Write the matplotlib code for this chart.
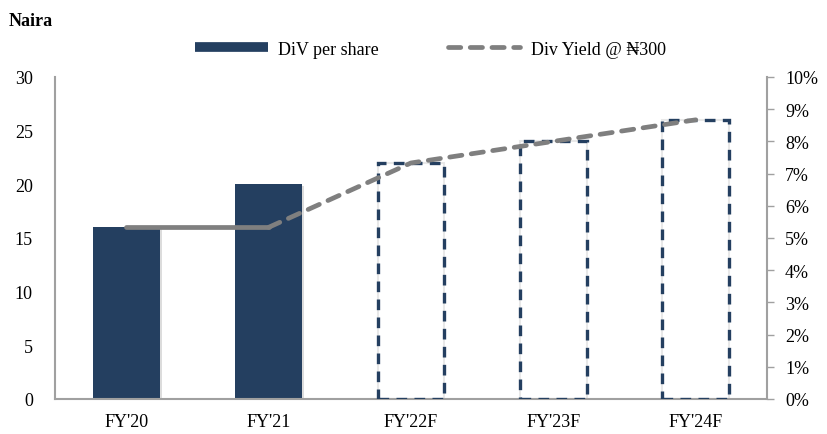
import matplotlib.pyplot as plt
import matplotlib.patheffects as pe
from matplotlib.lines import Line2D
from matplotlib.ticker import PercentFormatter
import numpy as np

plt.rcParams['font.family'] = ['Liberation Serif', 'DejaVu Serif']
plt.rcParams['font.size'] = 13

years = ["FY'20", "FY'21", "FY'22F", "FY'23F", "FY'24F"]
dps = [16, 20, 22, 24, 26]
div_yield = [5.33, 5.33, 7.33, 8.0, 8.67]   # % at N300 share price
n_actual = 2

navy = '#243f60'
grey = '#7f7f7f'
axis_grey = '#a0a0a0'

fig = plt.figure(figsize=(8.28, 4.35), dpi=100)
ax = fig.add_axes([0.0664, 0.0805, 0.8599, 0.7402])
ax2 = ax.twinx()
ax.set_zorder(1)
ax2.set_zorder(2)
ax.patch.set_visible(False)

x = np.arange(len(years))
w = 0.47
shadow = [pe.SimplePatchShadow(offset=(1.5, -1.5), shadow_rgbFace='#bbbbbb', alpha=0.5), pe.Normal()]

# actual years: solid bars
bars = ax.bar(x[:n_actual], dps[:n_actual], w, color=navy, zorder=2)
for b in bars:
    b.set_path_effects(shadow)

# forecast years: faint outline under a dashed navy outline
ax.bar(x[n_actual:], dps[n_actual:], w, facecolor='white', edgecolor='#e8e8e8', linewidth=1.5, zorder=2)
ax.bar(x[n_actual:], dps[n_actual:], w, facecolor='none', edgecolor=navy,
       linewidth=2.4, linestyle=(0, (3.2, 2.2)), zorder=3)

ax.set_xlim(-0.5, 4.5)
ax.set_ylim(0, 30)
ax.set_yticks(np.arange(0, 31, 5))
ax.set_xticks(x)
ax.set_xticklabels(years)
ax.tick_params(axis='y', length=0, pad=16)
ax.tick_params(axis='x', length=0, pad=10)

# yield line: solid for actuals, dashed for forecasts
ax2.plot(x[:n_actual], div_yield[:n_actual], color=grey, lw=3.4, solid_capstyle='round', zorder=4)
ax2.plot(x[n_actual - 1:], div_yield[n_actual - 1:], color=grey, lw=3.4,
         dashes=(2.6, 2.0), dash_capstyle='round', zorder=4)
ax2.set_ylim(0, 10)
ax2.set_yticks(np.arange(0, 11, 1))
ax2.yaxis.set_major_formatter(PercentFormatter(decimals=0))
ax2.tick_params(axis='y', length=5, width=1, color=axis_grey, pad=8)

for a in (ax, ax2):
    a.spines['top'].set_visible(False)
    for s in ('left', 'right', 'bottom'):
        a.spines[s].set_color(axis_grey)
        a.spines[s].set_linewidth(1.5)
ax2.spines['left'].set_visible(False)
ax2.spines['bottom'].set_visible(False)
ax.spines['right'].set_visible(False)

fig.text(0.01, 0.94, 'Naira', fontweight='bold', fontsize=13)

handles = [Line2D([0], [0], color=navy, lw=7, solid_capstyle='butt'),
           Line2D([0], [0], color=grey, lw=3.4, dashes=(2.6, 2.0), dash_capstyle='round')]
fig.legend(handles, ['DiV per share', 'Div Yield @ ₦300'], loc='center',
           bbox_to_anchor=(0.52, 0.885), ncol=2, frameon=False,
           handlelength=4.0, columnspacing=3.8, handletextpad=0.6)

fig.savefig('out.png', dpi=100)
